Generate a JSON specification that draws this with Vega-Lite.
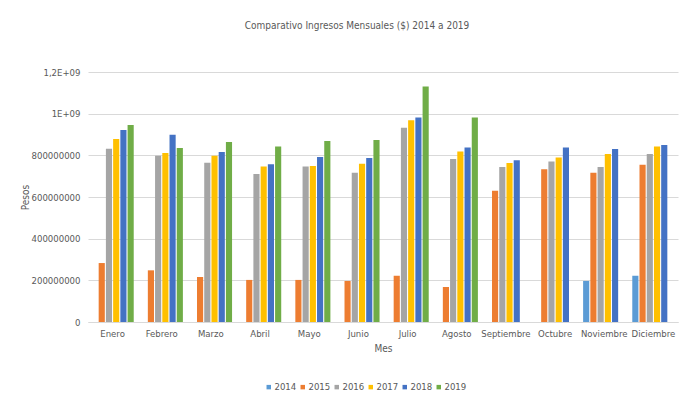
{
  "$schema": "https://vega.github.io/schema/vega-lite/v6.json",
  "width": 590,
  "height": 250,
  "autosize": {"type": "none"},
  "padding": {"left": 88, "top": 72, "right": 5, "bottom": 81},
  "background": "white",
  "title": {
    "text": "Comparativo Ingresos Mensuales ($) 2014 a 2019",
    "fontSize": 10,
    "fontWeight": "normal",
    "color": "#595959",
    "font": "DejaVu Sans Condensed",
    "anchor": "middle",
    "dx": -26,
    "offset": 36
  },
  "config": {
    "view": {"stroke": null},
    "font": "DejaVu Sans Condensed"
  },
  "data": {
    "values": [
      {"mes": "Enero", "anio": "2015", "valor": 283000000},
      {"mes": "Enero", "anio": "2016", "valor": 832000000},
      {"mes": "Enero", "anio": "2017", "valor": 878000000},
      {"mes": "Enero", "anio": "2018", "valor": 922000000},
      {"mes": "Enero", "anio": "2019", "valor": 946000000},
      {"mes": "Febrero", "anio": "2015", "valor": 248000000},
      {"mes": "Febrero", "anio": "2016", "valor": 798000000},
      {"mes": "Febrero", "anio": "2017", "valor": 811000000},
      {"mes": "Febrero", "anio": "2018", "valor": 899000000},
      {"mes": "Febrero", "anio": "2019", "valor": 835000000},
      {"mes": "Marzo", "anio": "2015", "valor": 216000000},
      {"mes": "Marzo", "anio": "2016", "valor": 765000000},
      {"mes": "Marzo", "anio": "2017", "valor": 798000000},
      {"mes": "Marzo", "anio": "2018", "valor": 816000000},
      {"mes": "Marzo", "anio": "2019", "valor": 864000000},
      {"mes": "Abril", "anio": "2015", "valor": 202000000},
      {"mes": "Abril", "anio": "2016", "valor": 710000000},
      {"mes": "Abril", "anio": "2017", "valor": 746000000},
      {"mes": "Abril", "anio": "2018", "valor": 757000000},
      {"mes": "Abril", "anio": "2019", "valor": 843000000},
      {"mes": "Mayo", "anio": "2015", "valor": 202000000},
      {"mes": "Mayo", "anio": "2016", "valor": 746000000},
      {"mes": "Mayo", "anio": "2017", "valor": 749000000},
      {"mes": "Mayo", "anio": "2018", "valor": 792000000},
      {"mes": "Mayo", "anio": "2019", "valor": 869000000},
      {"mes": "Junio", "anio": "2015", "valor": 197000000},
      {"mes": "Junio", "anio": "2016", "valor": 717000000},
      {"mes": "Junio", "anio": "2017", "valor": 760000000},
      {"mes": "Junio", "anio": "2018", "valor": 787000000},
      {"mes": "Junio", "anio": "2019", "valor": 874000000},
      {"mes": "Julio", "anio": "2015", "valor": 222000000},
      {"mes": "Julio", "anio": "2016", "valor": 933000000},
      {"mes": "Julio", "anio": "2017", "valor": 968000000},
      {"mes": "Julio", "anio": "2018", "valor": 982000000},
      {"mes": "Julio", "anio": "2019", "valor": 1130000000},
      {"mes": "Agosto", "anio": "2015", "valor": 168000000},
      {"mes": "Agosto", "anio": "2016", "valor": 782000000},
      {"mes": "Agosto", "anio": "2017", "valor": 819000000},
      {"mes": "Agosto", "anio": "2018", "valor": 838000000},
      {"mes": "Agosto", "anio": "2019", "valor": 982000000},
      {"mes": "Septiembre", "anio": "2015", "valor": 630000000},
      {"mes": "Septiembre", "anio": "2016", "valor": 744000000},
      {"mes": "Septiembre", "anio": "2017", "valor": 763000000},
      {"mes": "Septiembre", "anio": "2018", "valor": 776000000},
      {"mes": "Octubre", "anio": "2015", "valor": 733000000},
      {"mes": "Octubre", "anio": "2016", "valor": 771000000},
      {"mes": "Octubre", "anio": "2017", "valor": 790000000},
      {"mes": "Octubre", "anio": "2018", "valor": 838000000},
      {"mes": "Noviembre", "anio": "2014", "valor": 197000000},
      {"mes": "Noviembre", "anio": "2015", "valor": 717000000},
      {"mes": "Noviembre", "anio": "2016", "valor": 744000000},
      {"mes": "Noviembre", "anio": "2017", "valor": 806000000},
      {"mes": "Noviembre", "anio": "2018", "valor": 830000000},
      {"mes": "Diciembre", "anio": "2014", "valor": 222000000},
      {"mes": "Diciembre", "anio": "2015", "valor": 755000000},
      {"mes": "Diciembre", "anio": "2016", "valor": 806000000},
      {"mes": "Diciembre", "anio": "2017", "valor": 843000000},
      {"mes": "Diciembre", "anio": "2018", "valor": 850000000}
    ]
  },
  "mark": {"type": "bar"},
  "encoding": {
    "x": {
      "field": "mes",
      "type": "nominal",
      "sort": ["Enero", "Febrero", "Marzo", "Abril", "Mayo", "Junio", "Julio", "Agosto", "Septiembre", "Octubre", "Noviembre", "Diciembre"],
      "scale": {"paddingInner": 0.14, "paddingOuter": 0.07},
      "axis": {
        "title": "Mes",
        "titleFontSize": 10,
        "titleFontWeight": "normal",
        "titleColor": "#595959",
        "titlePadding": 6,
        "labelAngle": 0,
        "labelFontSize": 9.5,
        "labelColor": "#595959",
        "labelPadding": 6,
        "ticks": false,
        "domainColor": "#D9D9D9",
        "grid": false
      }
    },
    "xOffset": {
      "field": "anio",
      "type": "nominal",
      "scale": {"domain": ["2014", "2015", "2016", "2017", "2018", "2019"], "paddingInner": 0.15}
    },
    "y": {
      "field": "valor",
      "type": "quantitative",
      "scale": {"domain": [0, 1200000000], "nice": false},
      "axis": {
        "title": "Pesos",
        "titleFontSize": 10,
        "titleFontWeight": "normal",
        "titleColor": "#595959",
        "titleX": -58,
        "titleY": 125,
        "values": [0, 200000000, 400000000, 600000000, 800000000, 1000000000, 1200000000],
        "labelExpr": "datum.value == 1000000000 ? '1E+09' : (datum.value == 1200000000 ? '1,2E+09' : format(datum.value, 'd'))",
        "labelFontSize": 9.5,
        "labelColor": "#595959",
        "labelPadding": 8,
        "ticks": false,
        "domain": false,
        "gridColor": "#D9D9D9",
        "gridWidth": 1
      }
    },
    "color": {
      "field": "anio",
      "type": "nominal",
      "scale": {
        "domain": ["2014", "2015", "2016", "2017", "2018", "2019"],
        "range": ["#5B9BD5", "#ED7D31", "#A5A5A5", "#FFC000", "#4472C4", "#70AD47"]
      },
      "legend": {
        "title": null,
        "orient": "none",
        "direction": "horizontal",
        "legendX": 176,
        "legendY": 310,
        "padding": 0,
        "symbolType": "square",
        "symbolSize": 20,
        "symbolStrokeWidth": 0,
        "labelFontSize": 9.5,
        "labelColor": "#595959",
        "labelOffset": 1,
        "columnPadding": 1
      }
    }
  }
}
